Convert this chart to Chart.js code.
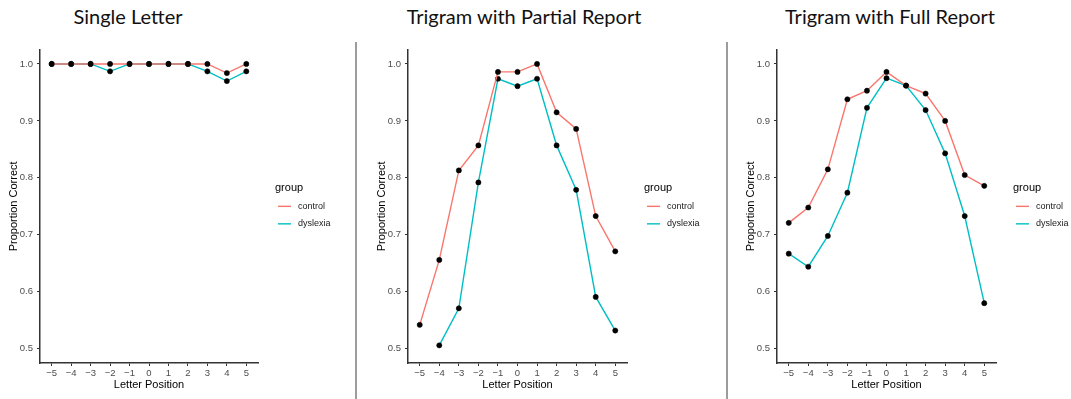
<!DOCTYPE html>
<html>
<head>
<meta charset="utf-8">
<script src="https://cdn.jsdelivr.net/npm/chart.js@4"></script>
<style>
  body { margin: 0; background: #fff; width: 1071px; height: 399px; position: relative; overflow: hidden; }
  .title { position: absolute; top: 4px; font-family: Lato, "Open Sans", sans-serif; font-size: 20px; line-height: 24px; color: #111; white-space: nowrap; transform: translateX(-50%); }
  .sep { position: absolute; top: 42px; width: 2px; height: 357px; background: #9c9c9c; }
  canvas { position: absolute; top: 40px; }
</style>
</head>
<body>
<div class="title" style="left:128px">Single Letter</div>
<div class="title" style="left:524px">Trigram with Partial Report</div>
<div class="title" style="left:890px">Trigram with Full Report</div>
<div class="sep" style="left:355px"></div>
<div class="sep" style="left:726px"></div>
<canvas id="single" width="355" height="359" style="left:0px"></canvas>
<canvas id="partial" width="369" height="359" style="left:358px"></canvas>
<canvas id="full" width="342" height="359" style="left:729px"></canvas>
<script>
// letter positions and tick labels
const positions = [-5, -4, -3, -2, -1, 0, 1, 2, 3, 4, 5];
const xTickLabels = ['\u22125', '\u22124', '\u22123', '\u22122', '\u22121', '0', '1', '2', '3', '4', '5'];
const yTicks = [0.5, 0.6, 0.7, 0.8, 0.9, 1.0];
const groups = ['control', 'dyslexia'];

// proportion correct
const singleControl = [1.0, 1.0, 1.0, 1.0, 1.0, 1.0, 1.0, 1.0, 1.0, 0.984, 1.0];
const singleDyslexia = [1.0, 1.0, 1.0, 0.987, 1.0, 1.0, 1.0, 1.0, 0.987, 0.970, 0.987];
const partialControl = [0.542, 0.656, 0.813, 0.857, 0.986, 0.986, 1.0, 0.915, 0.886, 0.733, 0.671];
const partialDyslexia = [null, 0.506, 0.571, 0.792, 0.974, 0.961, 0.974, 0.857, 0.779, 0.591, 0.532];
const fullControl = [0.721, 0.748, 0.815, 0.938, 0.953, 0.986, 0.962, 0.948, 0.900, 0.805, 0.786];
const fullDyslexia = [0.667, 0.644, 0.698, 0.774, 0.923, 0.975, 0.962, 0.919, 0.843, 0.733, 0.580];

const colors = ['#F8766D', '#00BFC4'];
const sans = '"Liberation Sans", Arial, sans-serif';

// ggplot-like legend to the right of the panel
const groupLegend = {
    id: 'groupLegend',
    afterDraw(chart) {
        const a = chart.chartArea;
        const ctx = chart.ctx;
        const cy = (a.top + a.bottom) / 2;
        ctx.save();
        ctx.textBaseline = 'middle';
        ctx.textAlign = 'left';
        ctx.fillStyle = '#000';
        ctx.font = '11px ' + sans;
        ctx.fillText('group', a.right + 17, cy - 18);
        chart.data.datasets.forEach((ds, i) => {
            const y = cy + i * 17.5;
            ctx.strokeStyle = ds.borderColor;
            ctx.lineWidth = 1.4;
            ctx.beginPath();
            ctx.moveTo(a.right + 20, y);
            ctx.lineTo(a.right + 33, y);
            ctx.stroke();
            ctx.fillStyle = '#1a1a1a';
            ctx.font = '9px ' + sans;
            ctx.fillText(ds.label, a.right + 40, y);
        });
        ctx.restore();
    }
};

function makePanel(id, series, pad) {
    new Chart(document.getElementById(id), {
        type: 'line',
        data: {
            datasets: series.map((vals, i) => ({
                label: groups[i],
                data: positions.map((x, j) => ({ x: x, y: vals[j] })),
                borderColor: colors[i],
                borderWidth: 1.4,
                pointRadius: 2.6,
                pointBackgroundColor: '#000',
                pointBorderColor: '#000',
                pointBorderWidth: 0.5,
                tension: 0
            }))
        },
        options: {
            responsive: false,
            animation: false,
            layout: { padding: pad },
            plugins: { legend: { display: false }, tooltip: { enabled: false } },
            scales: {
                x: {
                    type: 'linear',
                    min: -5.6,
                    max: 5.6,
                    afterBuildTicks: s => { s.ticks = positions.map(v => ({ value: v })); },
                    afterFit: s => { s.height = 29; },
                    ticks: {
                        callback: v => xTickLabels[positions.indexOf(v)],
                        color: '#4d4d4d',
                        font: { size: 9.5, family: sans },
                        padding: 2,
                        maxRotation: 0,
                        autoSkip: false
                    },
                    grid: { drawOnChartArea: false, drawTicks: true, tickLength: 3, color: '#333' },
                    border: { color: '#333', width: 1.5 },
                    title: { display: true, text: 'Letter Position', color: '#000', font: { size: 11, family: sans }, padding: 0 }
                },
                y: {
                    min: 0.475,
                    max: 1.025,
                    afterBuildTicks: s => { s.ticks = yTicks.map(v => ({ value: v })); },
                    afterFit: s => { s.width = 40; },
                    ticks: {
                        callback: v => v.toFixed(1),
                        color: '#4d4d4d',
                        font: { size: 9.5, family: sans },
                        padding: 4
                    },
                    grid: { drawOnChartArea: false, drawTicks: true, tickLength: 3, color: '#333' },
                    border: { color: '#333', width: 1.5 },
                    title: { display: true, text: 'Proportion Correct', color: '#000', font: { size: 11, family: sans }, padding: { top: 7, bottom: 0 } }
                }
            }
        },
        plugins: [groupLegend]
    });
}

makePanel('single', [singleControl, singleDyslexia], { left: 0, top: 9, bottom: 7, right: 97 });
makePanel('partial', [partialControl, partialDyslexia], { left: 10, top: 9, bottom: 7, right: 100 });
makePanel('full', [fullControl, fullDyslexia], { left: 8, top: 9, bottom: 7, right: 75 });
</script>
</body>
</html>
